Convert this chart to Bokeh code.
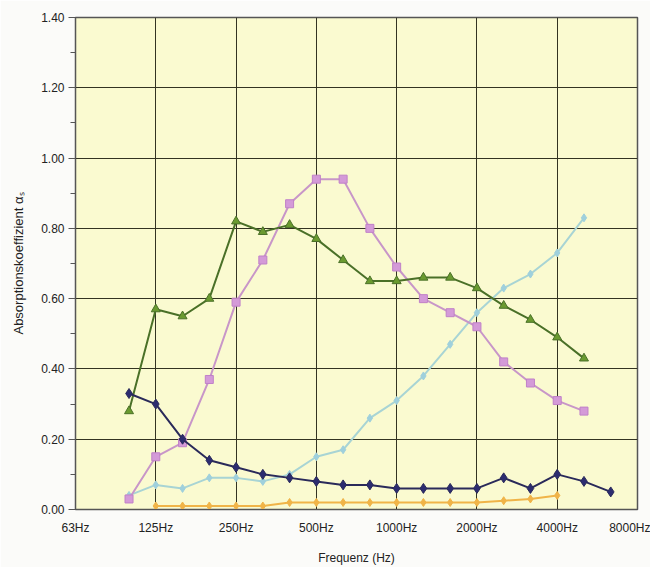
from bokeh.plotting import figure
from bokeh.models import FixedTicker, Range1d, CustomJSTickFormatter
from bokeh.embed import file_html
from bokeh.resources import INLINE

# third-octave bands (position on the axis = index in this list)
bands = ["63", "80", "100", "125", "160", "200", "250", "315", "400", "500", "630",
         "800", "1000", "1250", "1600", "2000", "2500", "3150", "4000", "5000", "6300", "8000"]
octave_labels = ["63Hz", "125Hz", "250Hz", "500Hz", "1000Hz", "2000Hz", "4000Hz", "8000Hz"]
octave_bands = ["63", "125", "250", "500", "1000", "2000", "4000", "8000"]

navy_f = bands[2:21]
navy_v = [0.33, 0.30, 0.20, 0.14, 0.12, 0.10, 0.09, 0.08, 0.07, 0.07, 0.06, 0.06, 0.06, 0.06,
          0.09, 0.06, 0.10, 0.08, 0.05]

pink_f = bands[2:20]
pink_v = [0.03, 0.15, 0.19, 0.37, 0.59, 0.71, 0.87, 0.94, 0.94, 0.80, 0.69, 0.60, 0.56, 0.52,
          0.42, 0.36, 0.31, 0.28]

green_f = bands[2:20]
green_v = [0.28, 0.57, 0.55, 0.60, 0.82, 0.79, 0.81, 0.77, 0.71, 0.65, 0.65, 0.66, 0.66, 0.63,
           0.58, 0.54, 0.49, 0.43]

cyan_f = bands[2:20]
cyan_v = [0.04, 0.07, 0.06, 0.09, 0.09, 0.08, 0.10, 0.15, 0.17, 0.26, 0.31, 0.38, 0.47, 0.56,
          0.63, 0.67, 0.73, 0.83]

orange_f = bands[3:19]
orange_v = [0.01, 0.01, 0.01, 0.01, 0.01, 0.02, 0.02, 0.02, 0.02, 0.02, 0.02, 0.02, 0.02,
            0.025, 0.03, 0.04]

def pos(fs):
    return [bands.index(f) for f in fs]

FONT = "Liberation Sans"

p = figure(width=650, height=567, output_backend="svg", toolbar_location=None,
           x_range=Range1d(0, len(bands) - 1), y_range=Range1d(0, 1.4),
           min_border_left=75, min_border_right=13, min_border_top=17, min_border_bottom=55)
p.background_fill_color = "#fafad0"
p.border_fill_color = "#fbfbf9"
p.outline_line_color = "#555555"
p.outline_line_width = 1.5

p.xaxis.ticker = FixedTicker(ticks=pos(octave_bands))
p.xaxis.major_label_overrides = {bands.index(b): l for b, l in zip(octave_bands, octave_labels)}
p.yaxis.ticker = FixedTicker(ticks=[0, 0.2, 0.4, 0.6, 0.8, 1.0, 1.2, 1.4],
                             minor_ticks=[0.1, 0.3, 0.5, 0.7, 0.9, 1.1, 1.3])
p.yaxis.formatter = CustomJSTickFormatter(code="return tick.toFixed(2)")

for ax in (p.xaxis, p.yaxis):
    ax.major_label_text_font = FONT
    ax.major_label_text_font_size = "12px"
    ax.major_label_text_color = "#222222"
    ax.axis_label_text_font = FONT
    ax.axis_label_text_font_size = "12px"
    ax.axis_label_text_font_style = "normal"
    ax.axis_label_text_color = "#222222"
    ax.axis_line_color = "#555555"

p.yaxis.axis_label_text_font_size = "13px"

p.xaxis.major_tick_line_color = None
p.xaxis.minor_tick_line_color = None
p.xaxis.major_label_standoff = 5
p.xaxis.axis_label = "Frequenz (Hz)"
p.xaxis.axis_label_standoff = 13

p.yaxis.major_tick_in = 0
p.yaxis.major_tick_out = 7
p.yaxis.minor_tick_in = 0
p.yaxis.minor_tick_out = 5
p.yaxis.major_tick_line_color = "#555555"
p.yaxis.minor_tick_line_color = "#555555"
p.yaxis.major_label_standoff = 4
p.yaxis.axis_label = "Absorptionskoeffizient \u03b1\u209b"
p.yaxis.axis_label_standoff = 12

p.xgrid.grid_line_color = "#333322"
p.ygrid.grid_line_color = "#333322"
p.xgrid.grid_line_width = 1
p.ygrid.grid_line_width = 1

# series
p.line(pos(orange_f), orange_v, line_color="#f0b448", line_width=2)
p.scatter(pos(orange_f), orange_v, marker="diamond", size=8, fill_color="#f0b448", line_color="#f0b448")

p.line(pos(cyan_f), cyan_v, line_color="#a8d4d4", line_width=2)
p.scatter(pos(cyan_f), cyan_v, marker="diamond", size=8, fill_color="#9fd0dc", line_color="#9fd0dc")

p.line(pos(pink_f), pink_v, line_color="#c896c8", line_width=2)
p.scatter(pos(pink_f), pink_v, marker="square", size=8, fill_color="#d49ad8", line_color="#c080c8")

p.line(pos(green_f), green_v, line_color="#4a7028", line_width=2)
p.scatter(pos(green_f), green_v, marker="triangle", size=9, fill_color="#6a9a30", line_color="#4a7028")

p.line(pos(navy_f), navy_v, line_color="#2a2a5a", line_width=2)
p.scatter(pos(navy_f), navy_v, marker="diamond", size=10, fill_color="#2c2c70", line_color="#2a2a5a")

open("out.html", "w").write(file_html(p, INLINE))
